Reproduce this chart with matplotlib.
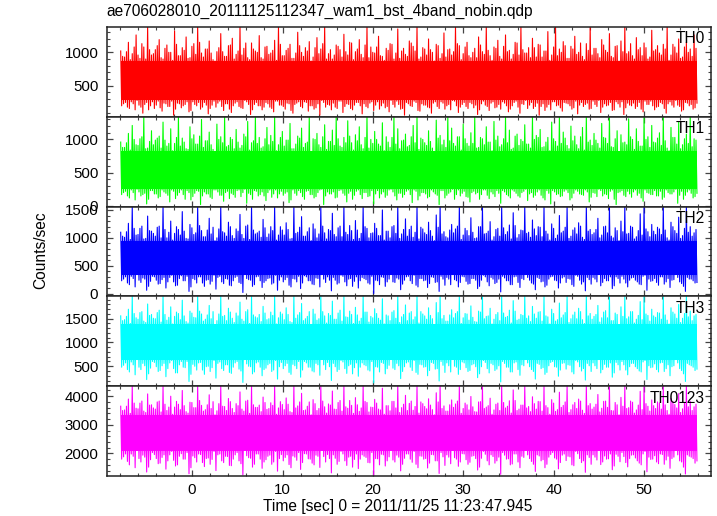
import numpy as np
import matplotlib
matplotlib.use("Agg")
import matplotlib.pyplot as plt
from matplotlib.ticker import MultipleLocator

plt.rcParams["font.family"] = ["Liberation Sans", "DejaVu Sans"]

title = "ae706028010_20111125112347_wam1_bst_4band_nobin.qdp"
xlabel = "Time [sec] 0 = 2011/11/25 11:23:47.945"
ylabel = "Counts/sec"

# time span of the light curve (sec)
t_start, t_end = -7.9, 55.85

channels = ["TH0", "TH1", "TH2", "TH3", "TH0123"]
colors = ["#ff0000", "#00ff00", "#0000ff", "#00ffff", "#ff00ff"]

# per-panel y ranges, major / minor tick steps
ylims = [(36, 1379), (-10, 1340), (-50, 1560), (80, 1970), (1210, 4350)]
ymajor = [500, 500, 500, 500, 1000]
yminor = [100, 100, 100, 100, 200]

# solid core of each band (counts/sec)
core_lo = [280, 250, 340, 640, 2100]
core_hi = [870, 820, 950, 1380, 3350]

# large upper / lower excursions read along the time axis
th0_hi = [1020, 930, 1150, 980, 1260, 910, 1080, 1380, 960, 1040,
          1190, 900, 1110, 1000, 1320, 950, 1070, 1230, 920, 1130,
          1380, 990, 1050, 1170, 890, 1010, 1280, 940, 1100, 1210,
          970, 1380, 1060, 920, 1140, 1020, 1250, 900, 1090, 990,
          1180, 1380, 950, 1030, 1120, 910, 1300, 1000, 1070, 1160,
          930, 1220, 1050, 1380, 980, 900, 1110, 1040, 1270, 960,
          1140, 1010, 1190, 920, 1380, 1080, 990, 1240, 940, 1060,
          1130, 900, 1350, 1020, 970, 1170, 1090, 1380, 930, 1050,
          1200, 1000, 1120, 910, 1290, 1040, 960, 1380, 1100, 980,
          1150, 920, 1060, 1230, 1010, 1380, 950, 1080, 1180, 900,
          1260, 1030, 970, 1140, 1380, 990, 1070, 1210, 930, 1110,
          1020, 1310, 960, 1380, 1050, 1160, 910, 1090, 1240, 1000,
          940, 1130, 1380, 1060, 980, 1190, 1030, 1280, 920, 1100,
          1170, 1380, 1010, 950, 1220, 1070, 1140, 900, 1330, 1040,
          990, 1120, 1380, 960, 1080, 1200, 930, 1150, 1050, 1260]
th0_lo = [230, 180, 260, 140, 210, 90, 250, 200, 160, 270,
          120, 230, 190, 60, 240, 170, 220, 110, 260, 200,
          150, 250, 80, 210, 180, 270, 130, 230, 100, 240,
          190, 160, 260, 70, 220, 200, 140, 250, 180, 110,
          270, 210, 150, 230, 90, 240, 190, 260, 120, 200,
          170, 60, 250, 220, 140, 180, 270, 100, 230, 160,
          210, 250, 80, 190, 240, 130, 260, 200, 170, 110,
          220, 270, 150, 60, 230, 190, 250, 120, 210, 180,
          90, 260, 160, 240, 200, 140, 270, 100, 220, 190,
          250, 170, 70, 230, 210, 130, 260, 180, 150, 240,
          110, 200, 270, 90, 220, 160, 250, 190, 60, 230,
          180, 140, 260, 210, 120, 240, 200, 170, 80, 250,
          220, 150, 270, 190, 100, 230, 210, 130, 260, 180,
          70, 240, 200, 160, 250, 110, 220, 270, 140, 190,
          230, 90, 260, 180, 210, 120, 250, 200, 150, 240]
# moderate excursions (dense fringe around the core)
th0_mhi = [940, 1010, 890, 1080, 960, 1130, 900, 1040, 980, 1100,
           920, 1060, 1000, 880, 1120, 950, 1030, 910, 1090, 970,
           1150, 930, 1050, 990, 870, 1070, 1010, 940, 1110, 900,
           1020, 960, 1140, 890, 1050, 1000, 920, 1080, 970, 1030,
           880, 1120, 950, 1060, 910, 990, 1100, 940, 1020, 870,
           1070, 980, 1130, 900, 1040, 960, 1090, 930, 1010, 1150,
           890, 1050, 970, 1110, 920, 1000, 1080, 950, 880, 1030,
           1120, 990, 910, 1060, 940, 1140, 1020, 900, 1070, 960,
           1040, 870, 1100, 980, 930, 1050, 1010, 1130, 890, 1080,
           950, 1000, 920, 1110, 970, 1030, 880, 1060, 940, 1090,
           1010, 900, 1150, 960, 1040, 990, 920, 1070, 1120, 930,
           1020, 880, 1080, 950, 1000, 1100, 910, 1050, 970, 1140,
           890, 1030, 960, 1060, 920, 1110, 1000, 940, 1090, 870,
           1010, 980, 1130, 900, 1040, 950, 1070, 930, 1020, 1100,
           960, 1050, 880, 1120, 990, 910, 1080, 1000, 940, 1060]
th0_mlo = [200, 250, 160, 230, 280, 180, 220, 140, 260, 210,
           170, 240, 190, 270, 150, 230, 200, 260, 130, 220,
           250, 180, 210, 160, 270, 240, 190, 230, 150, 200,
           260, 170, 280, 220, 140, 250, 200, 180, 230, 160,
           270, 210, 190, 240, 130, 220, 260, 170, 250, 200,
           150, 230, 280, 180, 210, 240, 160, 270, 190, 220,
           140, 250, 200, 230, 170, 260, 210, 150, 240, 190,
           280, 180, 220, 160, 250, 200, 270, 130, 230, 210,
           170, 240, 190, 260, 150, 220, 280, 200, 180, 250,
           160, 230, 210, 140, 270, 190, 240, 170, 220, 260,
           200, 150, 250, 180, 230, 280, 210, 160, 240, 190,
           130, 220, 260, 200, 170, 250, 230, 150, 270, 210,
           190, 240, 160, 220, 280, 180, 200, 250, 140, 230,
           260, 170, 210, 240, 190, 150, 270, 220, 200, 180,
           250, 160, 230, 210, 280, 190, 140, 240, 220, 170]

th1_hi = [960, 880, 1090, 1210, 920, 1010, 1340, 870, 1130, 990,
          1050, 1260, 900, 1160, 940, 1340, 1020, 860, 1190, 1070,
          930, 1300, 980, 1110, 850, 1230, 1040, 1340, 910, 1000,
          1150, 870, 1080, 1270, 950, 1340, 1030, 890, 1180, 1060,
          1340, 920, 1120, 990, 1240, 860, 1050, 1170, 940, 1340,
          1010, 1090, 880, 1220, 970, 1140, 1340, 900, 1030, 1280,
          950, 1070, 1190, 860, 1340, 1000, 1120, 930, 1250, 1040,
          880, 1340, 1160, 980, 1080, 910, 1210, 1340, 1020, 950,
          1130, 870, 1290, 1060, 990, 1340, 1170, 900, 1040, 1230,
          940, 1100, 1340, 880, 1010, 1190, 960, 1270, 1050, 920,
          1340, 1140, 870, 1080, 1000, 1220, 930, 1340, 1060, 1150,
          890, 1030, 1260, 970, 1340, 1110, 910, 1200, 1050, 860,
          1180, 1340, 990, 1090, 940, 1240, 1020, 1340, 880, 1130,
          1070, 960, 1310, 1000, 1160, 900, 1340, 1040, 1210, 950,
          1100, 1340, 870, 1180, 1030, 1260, 920, 1080, 1340, 1010]
th1_lo = [200, 150, 240, 90, 210, 170, 30, 230, 180, 120,
          240, 190, 60, 220, 160, 240, 100, 200, 140, 230,
          20, 210, 180, 110, 240, 160, 70, 220, 190, 130,
          240, 200, 40, 170, 230, 150, 210, 80, 240, 180,
          120, 220, 190, 50, 240, 160, 200, 100, 230, 170,
          140, 240, 20, 210, 180, 120, 230, 190, 60, 220,
          160, 240, 110, 200, 150, 30, 230, 180, 130, 240,
          210, 90, 190, 170, 240, 50, 220, 150, 200, 120,
          240, 180, 20, 230, 160, 210, 100, 240, 190, 140,
          60, 220, 200, 170, 240, 110, 180, 230, 40, 210,
          150, 240, 190, 130, 220, 80, 200, 160, 240, 120,
          230, 30, 210, 180, 150, 240, 90, 190, 220, 170,
          240, 60, 200, 140, 230, 180, 110, 240, 20, 210,
          160, 220, 130, 240, 190, 70, 200, 170, 230, 150,
          100, 240, 180, 210, 40, 220, 160, 240, 120, 190]
th1_mhi = [880, 950, 840, 1000, 910, 1040, 860, 970, 920, 1020,
           870, 990, 940, 830, 1030, 900, 960, 850, 1010, 930,
           1050, 880, 980, 920, 820, 1000, 950, 890, 1030, 860,
           960, 910, 1040, 840, 980, 940, 870, 1010, 920, 970,
           830, 1030, 900, 990, 860, 930, 1020, 880, 960, 820,
           1000, 920, 1040, 850, 970, 910, 1010, 880, 950, 1050,
           840, 980, 920, 1030, 870, 940, 1000, 900, 830, 960,
           1030, 930, 860, 990, 890, 1040, 950, 850, 1000, 910,
           970, 820, 1020, 920, 880, 980, 940, 1040, 840, 1010,
           900, 940, 870, 1030, 920, 960, 830, 990, 890, 1010,
           950, 850, 1050, 910, 970, 930, 870, 1000, 1030, 880,
           960, 830, 1010, 900, 940, 1020, 860, 980, 920, 1040,
           840, 960, 910, 990, 870, 1030, 940, 890, 1010, 820,
           950, 920, 1040, 850, 970, 900, 1000, 880, 960, 1020,
           910, 980, 830, 1030, 930, 860, 1010, 940, 890, 990]
th1_mlo = [170, 220, 120, 200, 250, 150, 190, 100, 230, 180,
           140, 210, 160, 240, 110, 200, 170, 230, 90, 190,
           220, 150, 180, 130, 240, 210, 160, 200, 110, 170,
           230, 140, 250, 190, 100, 220, 170, 150, 200, 130,
           240, 180, 160, 210, 90, 190, 230, 140, 220, 170,
           120, 200, 250, 150, 180, 210, 130, 240, 160, 190,
           100, 220, 170, 200, 140, 230, 180, 120, 210, 160,
           250, 150, 190, 130, 220, 170, 240, 90, 200, 180,
           140, 210, 160, 230, 120, 190, 250, 170, 150, 220,
           130, 200, 180, 100, 240, 160, 210, 140, 190, 230,
           170, 120, 220, 150, 200, 250, 180, 130, 210, 160,
           90, 190, 230, 170, 140, 220, 200, 120, 240, 180,
           160, 210, 130, 190, 250, 150, 170, 220, 100, 200,
           230, 140, 180, 210, 160, 120, 240, 190, 170, 150,
           220, 130, 200, 180, 250, 160, 100, 210, 190, 140]

th2_hi = [1100, 1010, 1260, 1560, 1050, 1170, 980, 1390, 1120, 1030,
          1210, 1560, 1000, 1300, 1080, 1150, 1470, 990, 1240, 1060,
          1560, 1130, 1020, 1350, 1190, 1000, 1560, 1090, 1280, 1040,
          1160, 1420, 990, 1230, 1560, 1070, 1120, 1330, 1010, 1200,
          1560, 1050, 1140, 1270, 980, 1560, 1100, 1380, 1030, 1180,
          1250, 1000, 1560, 1090, 1150, 1440, 1020, 1210, 1560, 1060,
          1130, 1310, 990, 1560, 1170, 1080, 1260, 1040, 1500, 1120,
          1000, 1220, 1560, 1070, 1340, 1150, 1010, 1560, 1190, 1090,
          1280, 1030, 1410, 1560, 1110, 1000, 1240, 1160, 1560, 1050,
          1130, 1360, 990, 1200, 1560, 1080, 1290, 1020, 1170, 1560,
          1060, 1230, 1450, 1000, 1140, 1560, 1100, 1320, 1040, 1190,
          1560, 1070, 1250, 990, 1400, 1120, 1560, 1030, 1180, 1270,
          1010, 1560, 1150, 1090, 1350, 1050, 1210, 1560, 1000, 1130,
          1300, 1560, 1080, 1190, 1020, 1430, 1560, 1110, 1240, 1060,
          1160, 1560, 1000, 1280, 1130, 1370, 1040, 1560, 1200, 1090]
th2_lo = [260, 190, 310, 120, 240, 280, 60, 220, 300, 170,
          250, 100, 290, 210, 150, 320, 230, 40, 270, 190,
          300, 130, 250, 220, 80, 310, 180, 260, 140, 290,
          200, 20, 270, 240, 160, 310, 110, 230, 280, 190,
          60, 300, 250, 150, 270, 210, 90, 320, 230, 170,
          280, 120, 260, 300, 50, 240, 190, 310, 140, 270,
          220, 100, 290, 250, 170, 0, 230, 300, 130, 260,
          210, 280, 70, 240, 310, 180, 150, 270, 230, 110,
          300, 200, 40, 260, 290, 160, 250, 120, 310, 220,
          180, 270, 90, 240, 300, 140, 260, 200, 30, 280,
          230, 160, 310, 110, 250, 290, 190, 70, 270, 220,
          150, 300, 240, 100, 280, 200, 260, 130, 310, 170,
          50, 250, 290, 210, 140, 270, 230, 90, 300, 190,
          260, 120, 280, 240, 170, 310, 60, 220, 270, 150,
          300, 210, 110, 250, 290, 180, 40, 260, 230, 200]
th2_mhi = [1030, 1110, 970, 1170, 1060, 1210, 990, 1130, 1080, 1190,
           1000, 1150, 1100, 960, 1200, 1050, 1120, 980, 1180, 1090,
           1220, 1020, 1140, 1070, 950, 1160, 1110, 1030, 1200, 990,
           1120, 1060, 1210, 970, 1140, 1090, 1010, 1180, 1070, 1130,
           960, 1200, 1050, 1150, 990, 1080, 1190, 1030, 1110, 950,
           1160, 1070, 1210, 980, 1130, 1060, 1180, 1020, 1100, 1220,
           970, 1140, 1080, 1200, 1000, 1090, 1170, 1040, 960, 1120,
           1200, 1080, 990, 1150, 1030, 1210, 1100, 980, 1160, 1060,
           1130, 950, 1190, 1070, 1020, 1140, 1090, 1210, 970, 1170,
           1040, 1100, 1000, 1200, 1070, 1120, 960, 1150, 1030, 1180,
           1110, 980, 1220, 1060, 1130, 1080, 1010, 1160, 1200, 1020,
           1120, 960, 1170, 1050, 1090, 1190, 990, 1140, 1070, 1210,
           970, 1120, 1060, 1150, 1000, 1200, 1090, 1030, 1180, 950,
           1110, 1070, 1210, 980, 1130, 1050, 1160, 1020, 1120, 1190,
           1060, 1140, 960, 1200, 1080, 990, 1170, 1100, 1030, 1150]
th2_mlo = [230, 300, 160, 270, 340, 200, 260, 130, 310, 240,
           180, 290, 210, 330, 140, 270, 230, 310, 120, 250,
           300, 190, 240, 170, 330, 290, 210, 270, 150, 230,
           310, 180, 340, 250, 130, 300, 230, 200, 270, 170,
           330, 240, 210, 290, 120, 260, 310, 190, 300, 230,
           160, 270, 340, 200, 240, 290, 170, 330, 210, 260,
           130, 300, 230, 270, 190, 310, 240, 160, 290, 210,
           340, 200, 260, 170, 300, 230, 330, 120, 270, 240,
           180, 290, 210, 310, 150, 260, 340, 230, 200, 300,
           170, 270, 240, 130, 330, 210, 290, 180, 260, 310,
           230, 160, 300, 200, 270, 340, 240, 170, 290, 210,
           120, 260, 310, 230, 190, 300, 270, 160, 330, 240,
           210, 290, 170, 260, 340, 200, 230, 300, 140, 270,
           310, 190, 240, 290, 210, 160, 330, 260, 230, 200,
           300, 170, 270, 240, 340, 210, 130, 290, 260, 190]

th3_hi = [1560, 1480, 1700, 1970, 1520, 1630, 1450, 1810, 1590, 1500,
          1680, 1970, 1470, 1750, 1550, 1610, 1890, 1440, 1660, 1530,
          1970, 1600, 1490, 1780, 1650, 1460, 1970, 1570, 1720, 1510,
          1620, 1850, 1450, 1690, 1970, 1540, 1590, 1760, 1480, 1640,
          1970, 1520, 1600, 1730, 1440, 1970, 1580, 1820, 1500, 1650,
          1700, 1470, 1970, 1560, 1610, 1870, 1490, 1680, 1970, 1530,
          1590, 1740, 1450, 1970, 1640, 1550, 1710, 1510, 1920, 1580,
          1460, 1670, 1970, 1540, 1790, 1620, 1480, 1970, 1650, 1560,
          1730, 1500, 1840, 1970, 1570, 1450, 1690, 1610, 1970, 1520,
          1600, 1770, 1440, 1660, 1970, 1550, 1720, 1490, 1630, 1970,
          1530, 1680, 1880, 1470, 1590, 1970, 1560, 1760, 1510, 1650,
          1970, 1540, 1700, 1450, 1830, 1580, 1970, 1500, 1640, 1720,
          1480, 1970, 1610, 1550, 1780, 1520, 1670, 1970, 1460, 1590,
          1750, 1970, 1540, 1650, 1490, 1860, 1970, 1570, 1700, 1530,
          1620, 1970, 1470, 1730, 1600, 1800, 1510, 1970, 1660, 1560]
th3_lo = [520, 430, 590, 320, 480, 560, 220, 460, 580, 390,
          510, 280, 570, 450, 360, 600, 470, 180, 540, 420,
          580, 330, 500, 470, 250, 590, 410, 530, 350, 570,
          440, 160, 550, 490, 380, 590, 300, 460, 560, 420,
          230, 580, 510, 370, 540, 450, 270, 600, 480, 400,
          560, 310, 530, 580, 200, 490, 430, 590, 350, 540,
          470, 290, 570, 510, 400, 150, 480, 580, 340, 520,
          460, 560, 240, 490, 590, 410, 370, 540, 480, 300,
          580, 440, 190, 520, 570, 380, 500, 330, 590, 470,
          410, 550, 260, 490, 580, 360, 530, 440, 170, 560,
          480, 380, 590, 310, 510, 570, 430, 230, 540, 470,
          370, 580, 490, 290, 560, 440, 520, 340, 590, 400,
          210, 510, 570, 450, 360, 540, 480, 270, 580, 420,
          530, 320, 560, 490, 400, 590, 220, 470, 550, 380,
          580, 450, 300, 510, 570, 410, 180, 530, 480, 440]
th3_mhi = [1460, 1550, 1400, 1610, 1490, 1650, 1420, 1570, 1510, 1630,
           1430, 1590, 1530, 1390, 1640, 1480, 1560, 1410, 1620, 1520,
           1660, 1450, 1580, 1500, 1380, 1600, 1550, 1460, 1640, 1420,
           1560, 1490, 1650, 1400, 1580, 1520, 1440, 1620, 1500, 1570,
           1390, 1640, 1480, 1590, 1420, 1510, 1630, 1460, 1550, 1380,
           1600, 1500, 1650, 1410, 1570, 1490, 1620, 1450, 1540, 1660,
           1400, 1580, 1510, 1640, 1430, 1520, 1610, 1470, 1390, 1560,
           1640, 1510, 1420, 1590, 1460, 1650, 1540, 1410, 1600, 1490,
           1570, 1380, 1630, 1500, 1450, 1580, 1520, 1650, 1400, 1610,
           1470, 1530, 1430, 1640, 1500, 1560, 1390, 1590, 1460, 1620,
           1550, 1410, 1660, 1490, 1570, 1510, 1440, 1600, 1640, 1450,
           1560, 1390, 1610, 1480, 1520, 1630, 1420, 1580, 1500, 1650,
           1400, 1560, 1490, 1590, 1430, 1640, 1520, 1460, 1620, 1380,
           1550, 1500, 1650, 1410, 1570, 1480, 1600, 1450, 1560, 1630,
           1490, 1580, 1390, 1640, 1510, 1420, 1610, 1540, 1460, 1590]
th3_mlo = [480, 570, 380, 530, 640, 430, 510, 340, 600, 490,
           410, 560, 450, 620, 360, 530, 480, 600, 330, 500,
           570, 420, 490, 390, 620, 560, 450, 530, 370, 480,
           600, 400, 640, 500, 340, 570, 480, 430, 530, 390,
           620, 490, 450, 560, 330, 510, 600, 420, 570, 480,
           380, 530, 640, 430, 490, 560, 390, 620, 450, 510,
           340, 570, 480, 530, 420, 600, 490, 380, 560, 450,
           640, 430, 510, 390, 570, 480, 620, 330, 530, 490,
           410, 560, 450, 600, 370, 510, 640, 480, 430, 570,
           390, 530, 490, 340, 620, 450, 560, 410, 510, 600,
           480, 380, 570, 430, 530, 640, 490, 390, 560, 450,
           330, 510, 600, 480, 420, 570, 530, 380, 620, 490,
           450, 560, 390, 510, 640, 430, 480, 570, 360, 530,
           600, 420, 490, 560, 450, 380, 620, 510, 480, 430,
           570, 390, 530, 490, 640, 450, 340, 560, 510, 410]

th0123_hi = [3650, 3520, 3900, 4350, 3580, 3760, 3480, 4080, 3700, 3550,
             3830, 4350, 3500, 4000, 3620, 3720, 4200, 3460, 3790, 3600,
             4350, 3680, 3530, 4050, 3810, 3490, 4350, 3640, 3920, 3570,
             3740, 4150, 3480, 3860, 4350, 3610, 3690, 3970, 3540, 3770,
             4350, 3590, 3710, 3940, 3460, 4350, 3660, 4100, 3520, 3800,
             3880, 3500, 4350, 3630, 3730, 4180, 3540, 3850, 4350, 3580,
             3680, 3950, 3470, 4350, 3780, 3620, 3890, 3550, 4280, 3670,
             3490, 3820, 4350, 3600, 4030, 3750, 3510, 4350, 3800, 3640,
             3910, 3530, 4120, 4350, 3660, 3480, 3870, 3730, 4350, 3570,
             3700, 3990, 3460, 3800, 4350, 3620, 3930, 3520, 3760, 4350,
             3590, 3840, 4220, 3500, 3690, 4350, 3640, 3980, 3550, 3810,
             4350, 3600, 3880, 3470, 4140, 3680, 4350, 3530, 3780, 3900,
             3510, 4350, 3740, 3620, 4060, 3580, 3830, 4350, 3490, 3700,
             3960, 4350, 3600, 3790, 3520, 4170, 4350, 3650, 3870, 3570,
             3760, 4350, 3500, 3920, 3710, 4090, 3560, 4350, 3820, 3630]
th0123_lo = [1880, 1720, 1980, 1500, 1820, 1940, 1350, 1780, 1960, 1640,
             1860, 1450, 1950, 1760, 1600, 1990, 1800, 1290, 1910, 1700,
             1960, 1540, 1840, 1790, 1400, 1980, 1680, 1890, 1570, 1950,
             1740, 1250, 1920, 1830, 1620, 1980, 1480, 1780, 1940, 1700,
             1380, 1960, 1860, 1610, 1910, 1760, 1440, 1990, 1810, 1660,
             1940, 1510, 1890, 1960, 1320, 1830, 1720, 1980, 1580, 1900,
             1790, 1470, 1950, 1860, 1670, 1230, 1810, 1970, 1560, 1880,
             1770, 1940, 1390, 1830, 1980, 1690, 1620, 1910, 1800, 1490,
             1960, 1740, 1300, 1880, 1950, 1640, 1850, 1550, 1990, 1780,
             1690, 1920, 1420, 1830, 1970, 1600, 1890, 1740, 1270, 1940,
             1810, 1630, 1980, 1500, 1860, 1950, 1720, 1370, 1910, 1780,
             1620, 1960, 1840, 1460, 1940, 1750, 1880, 1570, 1990, 1680,
             1340, 1860, 1950, 1770, 1610, 1910, 1810, 1430, 1970, 1710,
             1890, 1530, 1940, 1840, 1660, 1980, 1360, 1790, 1920, 1640,
             1960, 1770, 1480, 1870, 1950, 1700, 1280, 1900, 1820, 1740]
th0123_mhi = [3500, 3650, 3400, 3760, 3560, 3830, 3430, 3690, 3590, 3800,
              3450, 3720, 3620, 3370, 3820, 3530, 3670, 3410, 3780, 3600,
              3850, 3480, 3700, 3570, 3350, 3740, 3650, 3500, 3810, 3430,
              3670, 3550, 3830, 3400, 3700, 3610, 3460, 3780, 3570, 3680,
              3370, 3810, 3530, 3720, 3430, 3590, 3800, 3500, 3650, 3350,
              3740, 3570, 3830, 3410, 3690, 3550, 3780, 3480, 3630, 3850,
              3400, 3700, 3590, 3820, 3450, 3610, 3760, 3520, 3370, 3670,
              3820, 3590, 3430, 3720, 3500, 3830, 3640, 3410, 3740, 3560,
              3690, 3350, 3800, 3570, 3480, 3700, 3610, 3830, 3400, 3760,
              3520, 3630, 3450, 3810, 3570, 3670, 3370, 3720, 3500, 3780,
              3650, 3410, 3850, 3550, 3690, 3590, 3460, 3740, 3820, 3480,
              3670, 3370, 3760, 3530, 3610, 3800, 3430, 3700, 3570, 3830,
              3400, 3670, 3550, 3720, 3450, 3820, 3610, 3500, 3780, 3350,
              3650, 3570, 3830, 3410, 3690, 3530, 3740, 3480, 3670, 3800,
              3550, 3700, 3370, 3820, 3590, 3430, 3760, 3630, 3500, 3720]
th0123_mlo = [1800, 1980, 1600, 1900, 2100, 1700, 1870, 1520, 2030, 1820,
              1660, 1950, 1740, 2070, 1560, 1900, 1800, 2030, 1500, 1850,
              1980, 1680, 1820, 1620, 2070, 1950, 1740, 1900, 1580, 1800,
              2030, 1640, 2100, 1850, 1520, 1980, 1800, 1700, 1900, 1620,
              2070, 1820, 1740, 1950, 1500, 1870, 2030, 1680, 1980, 1800,
              1600, 1900, 2100, 1700, 1820, 1950, 1620, 2070, 1740, 1870,
              1520, 1980, 1800, 1900, 1680, 2030, 1820, 1600, 1950, 1740,
              2100, 1700, 1870, 1620, 1980, 1800, 2070, 1500, 1900, 1820,
              1660, 1950, 1740, 2030, 1580, 1870, 2100, 1800, 1700, 1980,
              1620, 1900, 1820, 1520, 2070, 1740, 1950, 1660, 1870, 2030,
              1800, 1600, 1980, 1700, 1900, 2100, 1820, 1620, 1950, 1740,
              1500, 1870, 2030, 1800, 1680, 1980, 1900, 1600, 2070, 1820,
              1740, 1950, 1620, 1870, 2100, 1700, 1800, 1980, 1560, 1900,
              2030, 1680, 1820, 1950, 1740, 1600, 2070, 1870, 1800, 1700,
              1980, 1620, 1900, 1820, 2100, 1740, 1520, 1950, 1870, 1660]

highs = [th0_hi, th1_hi, th2_hi, th3_hi, th0123_hi]
lows = [th0_lo, th1_lo, th2_lo, th3_lo, th0123_lo]
mid_highs = [th0_mhi, th1_mhi, th2_mhi, th3_mhi, th0123_mhi]
mid_lows = [th0_mlo, th1_mlo, th2_mlo, th3_mlo, th0123_mlo]

FS = 11.2
TFS = 10.8
fig = plt.figure(figsize=(7.17, 5.16), dpi=100)
gs = fig.add_gridspec(5, 1, left=0.1488, right=0.9916, top=0.9477, bottom=0.0775, hspace=0)

axes = []
for i, name in enumerate(channels):
    ax = fig.add_subplot(gs[i, 0])
    axes.append(ax)
    # interleave the excursions -> dense noisy band
    y = np.column_stack((highs[i], mid_lows[i], mid_highs[i], lows[i])).ravel()
    t = np.linspace(t_start, t_end, len(y))
    ax.fill_between([t_start, t_end], core_lo[i], core_hi[i], color=colors[i], lw=0)
    ax.plot(t, y, color=colors[i], lw=0.8)
    ax.set_xlim(-9.45, 57.4)
    ax.set_ylim(*ylims[i])
    ax.xaxis.set_major_locator(MultipleLocator(10))
    ax.xaxis.set_minor_locator(MultipleLocator(2))
    ax.yaxis.set_major_locator(MultipleLocator(ymajor[i]))
    ax.yaxis.set_minor_locator(MultipleLocator(yminor[i]))
    ax.tick_params(which="both", direction="in", top=True, right=True,
                   color="#444444", labelsize=TFS)
    ax.tick_params(which="major", length=4, width=0.9, pad=6)
    ax.tick_params(which="minor", length=2.5, width=0.8)
    if i < 4:
        ax.tick_params(labelbottom=False)
    for s in ax.spines.values():
        s.set_linewidth(1.1)
        s.set_color("#222222")
    ax.text(0.99, 0.95, name, transform=ax.transAxes, ha="right", va="top",
            fontsize=FS)

axes[-1].tick_params(axis="x", pad=5)
fig.text(0.1488, 0.963, title, ha="left", va="bottom", fontsize=FS)
fig.text(0.555, 0.018, xlabel, ha="center", va="center", fontsize=FS)
fig.text(0.057, 0.515, ylabel, ha="center", va="center", rotation=90, fontsize=FS)

fig.savefig("out.png", dpi=100)
